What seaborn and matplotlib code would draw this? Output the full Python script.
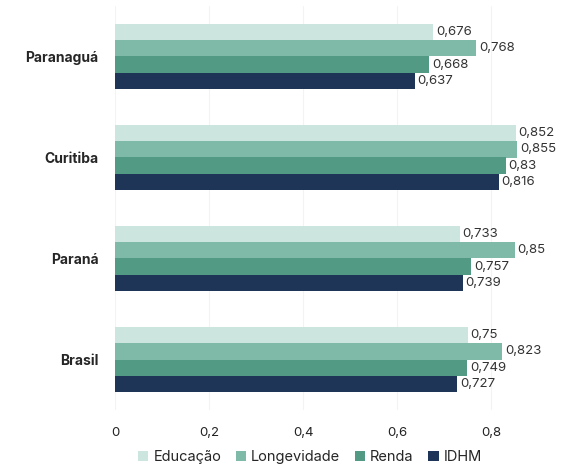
import matplotlib
matplotlib.use("Agg")
import matplotlib.pyplot as plt
import seaborn as sns
import pandas as pd

# data
locais = ["Paranaguá", "Curitiba", "Paraná", "Brasil"]
educacao = [0.676, 0.852, 0.733, 0.750]
longevidade = [0.768, 0.855, 0.850, 0.823]
renda = [0.668, 0.830, 0.757, 0.749]
idhm = [0.637, 0.816, 0.739, 0.727]
series = ["Educação", "Longevidade", "Renda", "IDHM"]
cores = ["#cde5df", "#7fbaa8", "#529a84", "#1e3558"]

df = pd.DataFrame({
    "local": locais * 4,
    "indice": [s for s in series for _ in locais],
    "valor": educacao + longevidade + renda + idhm,
})

sns.set_theme(style="white")
plt.rcParams["font.family"] = ["Inter", "DejaVu Sans"]

fig = plt.figure(figsize=(5.78, 4.65), dpi=100)
ax = fig.add_axes([115 / 578, 1 - 410 / 465, (562 - 115) / 578, 404 / 465])

sns.barplot(data=df, y="local", x="valor", hue="indice", order=locais,
            hue_order=series, palette=cores, orient="h", width=0.65,
            saturation=1, linewidth=0, ax=ax, legend=True)

def fmt(v):
    s = f"{v:.3f}".rstrip("0").rstrip(".")
    return s.replace(".", ",")

for cont in ax.containers:
    ax.bar_label(cont, labels=[fmt(b.get_width()) for b in cont], padding=2,
                 fontsize=9.5, color="#333333")

ax.set_xlim(0, 0.95)
ax.set_ylim(3.5, -0.5)
ax.set_xticks([0, 0.2, 0.4, 0.6, 0.8])
ax.set_xticklabels(["0", "0,2", "0,4", "0,6", "0,8"], fontsize=9.5, color="#222222")
ax.tick_params(axis="x", length=0, pad=12)
ax.tick_params(axis="y", length=0, pad=12)
for lab in ax.get_yticklabels():
    lab.set_fontweight("bold")
    lab.set_fontsize(10)
ax.set_xlabel("")
ax.set_ylabel("")
ax.grid(axis="x", color="#f3f3f3", linewidth=0.8)
ax.set_axisbelow(True)
for sp in ax.spines.values():
    sp.set_visible(False)

handles, labels = ax.get_legend_handles_labels()
ax.get_legend().remove()
fig.legend(handles, labels, loc="center", bbox_to_anchor=(310 / 578, 1 - 457 / 465),
           ncol=4, frameon=False, fontsize=10.5, handlelength=0.7, handleheight=0.7,
           handletextpad=0.35, columnspacing=1.0, borderpad=0)

fig.savefig("out.png", dpi=100)
